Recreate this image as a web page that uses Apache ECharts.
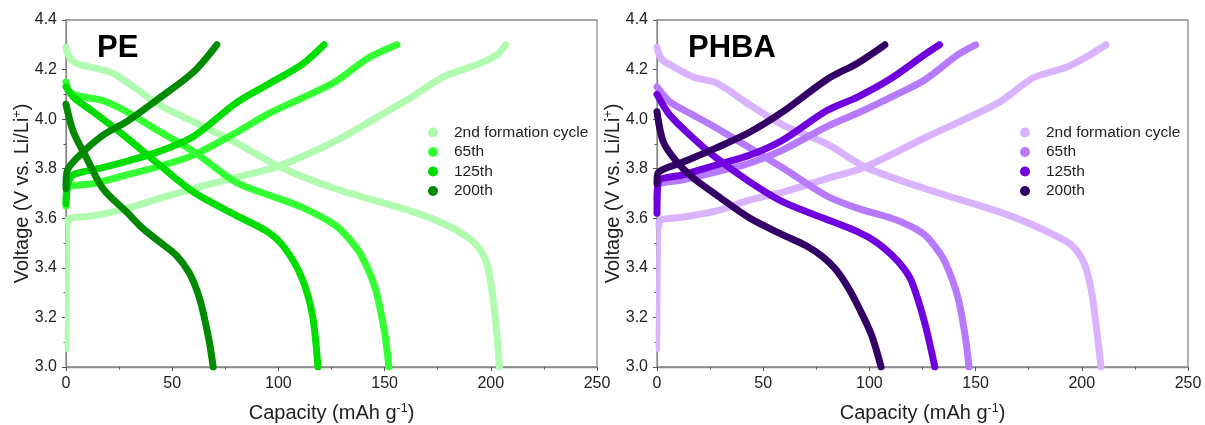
<!DOCTYPE html>
<html>
<head>
<meta charset="utf-8">
<script src="https://cdn.jsdelivr.net/npm/echarts@6/dist/echarts.min.js"></script>
<style>
  html, body { margin: 0; padding: 0; background: #fff; }
  #chart { width: 1205px; height: 425px; }
</style>
</head>
<body>
<div id="chart"></div>
<script>
// ---------- DATA (capacity mAh/g, voltage V) ----------
const cycleNames = ['2nd formation cycle', '65th', '125th', '200th'];
const panelTitles = ['PE', 'PHBA'];
const xTicks = [0, 50, 100, 150, 200, 250];
const yTicks = [3.0, 3.2, 3.4, 3.6, 3.8, 4.0, 4.2, 4.4];

// PE
const PE_2nd_rest = [[0.4,3.07],[0.6,3.3],[0.9,3.58]];
const PE_2nd_charge = [[0.9,3.58],[1.5,3.6],[12.8,3.61],[28.6,3.64],[44,3.68],[60,3.72],[80,3.765],[100,3.81],[126.6,3.91],[145,4.0],[162,4.085],[177.5,4.17],[193.5,4.22],[203,4.26],[207,4.30]];
const PE_2nd_discharge = [[0,4.29],[1,4.26],[3,4.235],[6.6,4.22],[20.7,4.19],[28.6,4.15],[44,4.057],[60,3.99],[80,3.905],[100,3.81],[126.6,3.72],[162,3.63],[177.5,3.58],[188,3.53],[193.5,3.49],[196.5,3.45],[198.7,3.40],[201,3.28],[203,3.12],[204,3.0]];
const PE_65_charge = [[0,3.65],[0.5,3.72],[12.8,3.74],[28.6,3.775],[44,3.81],[60,3.855],[80,3.945],[95,4.02],[111,4.085],[126.6,4.15],[142,4.245],[155.8,4.30]];
const PE_65_discharge = [[0,4.15],[1.2,4.115],[4,4.098],[10,4.087],[17.4,4.075],[28.6,4.03],[44,3.95],[60,3.87],[80,3.745],[95,3.695],[111,3.645],[126.6,3.573],[133,3.52],[139,3.45],[145.5,3.32],[150,3.14],[152,3.0]];
const PE_125_charge = [[0,3.66],[1,3.74],[3.4,3.775],[15,3.80],[28.6,3.83],[44,3.87],[60,3.93],[80,4.065],[95,4.14],[111,4.22],[121.5,4.30]];
const PE_125_discharge = [[0,4.13],[4,4.085],[12.8,4.03],[28.6,3.925],[44,3.815],[60,3.706],[80,3.612],[95,3.545],[103,3.48],[111,3.36],[116,3.21],[118.6,3.0]];
const PE_200_charge = [[0,3.72],[0.5,3.79],[6.6,3.855],[17.4,3.935],[28.6,3.99],[44,4.085],[60,4.19],[71,4.30]];
const PE_200_discharge = [[0,4.06],[3.4,3.95],[9.9,3.84],[17.4,3.72],[28.6,3.625],[36,3.56],[44,3.505],[52,3.45],[58,3.38],[62,3.30],[64.6,3.22],[67.5,3.10],[69.3,3.0]];

// PHBA
const PHBA_2nd_rest = [[0.4,3.07],[0.6,3.3],[0.9,3.57]];
const PHBA_2nd_charge = [[0.9,3.57],[1.5,3.593],[12.3,3.605],[28,3.63],[43.8,3.674],[59.3,3.706],[80,3.76],[98,3.807],[126,3.924],[145,4.0],[161.5,4.07],[177,4.166],[193,4.21],[204,4.26],[211.4,4.30]];
const PHBA_2nd_discharge = [[0,4.29],[1,4.26],[3,4.235],[6,4.22],[17,4.17],[28,4.146],[43.8,4.057],[59.3,3.976],[80,3.90],[98,3.807],[126,3.72],[161.5,3.625],[177,3.573],[193,3.505],[198,3.465],[201.5,3.41],[204.6,3.303],[207,3.15],[209,3.0]];
const PHBA_65_charge = [[0,3.68],[0.5,3.734],[12.3,3.755],[28,3.787],[43.8,3.823],[59.3,3.876],[80,3.97],[94.6,4.025],[110.5,4.09],[126,4.158],[141.7,4.26],[150,4.30]];
const PHBA_65_discharge = [[0,4.13],[6,4.07],[17,4.017],[28,3.964],[43.8,3.884],[59.3,3.803],[80,3.69],[94.6,3.64],[110.5,3.60],[120,3.565],[126,3.533],[131,3.485],[135.6,3.424],[141.7,3.28],[145,3.13],[146.9,3.0]];
const PHBA_125_charge = [[0,3.62],[0.5,3.746],[12.3,3.775],[28,3.815],[43.8,3.855],[59.3,3.916],[80,4.035],[94.6,4.09],[110.5,4.166],[126,4.26],[133,4.30]];
const PHBA_125_discharge = [[0,4.10],[6,4.017],[17,3.924],[28,3.843],[43.8,3.746],[59.3,3.666],[80,3.595],[94.6,3.545],[103,3.505],[110.5,3.452],[116,3.40],[120,3.343],[126,3.18],[130.8,3.0]];
const PHBA_200_charge = [[0,3.74],[0.5,3.783],[12.3,3.827],[28,3.884],[43.8,3.948],[59.3,4.03],[80,4.16],[94.6,4.227],[107.3,4.30]];
const PHBA_200_discharge = [[0,4.03],[3,3.908],[9.4,3.827],[17,3.763],[28,3.694],[43.8,3.60],[59.3,3.533],[70,3.49],[78,3.445],[84,3.395],[90,3.32],[95,3.24],[101,3.129],[105.5,3.0]];

const peColors = ['#b0fbb0', '#33ff33', '#00dd00', '#008a00'];
const phbaColors = ['#d9b3ff', '#b77aff', '#7000dd', '#330066'];

const peCurves = [
  [PE_2nd_charge, PE_2nd_discharge],
  [PE_65_charge, PE_65_discharge],
  [PE_125_charge, PE_125_discharge],
  [PE_200_charge, PE_200_discharge]
];
const phbaCurves = [
  [PHBA_2nd_charge, PHBA_2nd_discharge],
  [PHBA_65_charge, PHBA_65_discharge],
  [PHBA_125_charge, PHBA_125_discharge],
  [PHBA_200_charge, PHBA_200_discharge]
];

// ---------- CHART ----------
const FONT = 'Liberation Sans, Arial, sans-serif';
const chart = echarts.init(document.getElementById('chart'), null, { renderer: 'canvas' });

const grids = [
  { left: 66, top: 20, width: 531, height: 347, show: true, borderColor: '#8a8a8a', borderWidth: 1.3, backgroundColor: 'transparent', containLabel: false, outerBoundsMode: 'none' },
  { left: 657, top: 20, width: 531, height: 347, show: true, borderColor: '#8a8a8a', borderWidth: 1.3, backgroundColor: 'transparent', containLabel: false, outerBoundsMode: 'none' }
];

const nameStyle = { fontFamily: FONT, fontSize: 20, color: '#222', lineHeight: 23,
  rich: { sup: { fontFamily: FONT, fontSize: 12.5, color: '#222', verticalAlign: 'top', lineHeight: 23 } } };

function xAxis(i) {
  return {
    type: 'value', gridIndex: i, min: xTicks[0], max: xTicks[xTicks.length - 1], interval: 50,
    name: 'Capacity (mAh g{sup|-1})', nameLocation: 'middle', nameGap: 35, nameMoveOverlap: false,
    nameTextStyle: nameStyle,
    axisLine: { show: true, lineStyle: { color: '#8a8a8a', width: 1.3 } },
    axisTick: { show: true, inside: false, length: 4, lineStyle: { color: '#555', width: 1 } },
    minorTick: { show: true, splitNumber: 2, length: 2.5, lineStyle: { color: '#555', width: 1 } },
    splitLine: { show: false },
    axisLabel: { fontFamily: FONT, fontSize: 16, color: '#222', margin: 9 }
  };
}
function yAxis(i) {
  return {
    type: 'value', gridIndex: i, min: yTicks[0], max: yTicks[yTicks.length - 1], interval: 0.2,
    name: 'Voltage (V vs. Li/Li{sup|+})', nameLocation: 'middle', nameGap: 32, nameMoveOverlap: false,
    nameTextStyle: nameStyle,
    axisLine: { show: true, lineStyle: { color: '#8a8a8a', width: 1.3 } },
    axisTick: { show: true, inside: false, length: 4, lineStyle: { color: '#555', width: 1 } },
    minorTick: { show: true, splitNumber: 2, length: 2.5, lineStyle: { color: '#555', width: 1 } },
    splitLine: { show: false },
    axisLabel: { fontFamily: FONT, fontSize: 16, color: '#222', margin: 9, formatter: v => v.toFixed(1) }
  };
}

const series = [];
function lineSeries(name, data, color, gi, width) {
  return {
    name: name, type: 'line', xAxisIndex: gi, yAxisIndex: gi,
    data: data, smooth: 0.3, showSymbol: false, symbol: 'circle',
    color: color,
    lineStyle: { color: color, width: width, cap: 'round', join: 'round' },
    emphasis: { disabled: true }, animation: false, clip: true
  };
}
function addPanel(prefix, curves, rest, colors, gi) {
  curves.forEach((pair, k) => {
    pair.forEach(data => series.push(lineSeries(prefix + '|' + cycleNames[k], data, colors[k], gi, 7)));
    if (k === 0) series.push(lineSeries(prefix + '|' + cycleNames[0], rest, colors[0], gi, 4.5));
  });
}
addPanel('PE', peCurves, PE_2nd_rest, peColors, 0);
addPanel('PHBA', phbaCurves, PHBA_2nd_rest, phbaColors, 1);

function legend(prefix, left) {
  return {
    orient: 'vertical', left: left, top: 119.5, itemGap: 3.5,
    icon: 'circle', itemWidth: 10, itemHeight: 10,
    data: cycleNames.map(n => prefix + '|' + n),
    formatter: name => name.split('|')[1],
    textStyle: { fontFamily: FONT, fontSize: 15.5, lineHeight: 16, color: '#222', padding: [0, 0, 0, 11] },
    selectedMode: false
  };
}

chart.setOption({
  backgroundColor: '#fff',
  animation: false,
  title: [
    { text: panelTitles[0], left: 92, top: 28, textStyle: { fontFamily: FONT, fontSize: 31, fontWeight: 'bold', color: '#000' } },
    { text: panelTitles[1], left: 683, top: 28, textStyle: { fontFamily: FONT, fontSize: 31, fontWeight: 'bold', color: '#000' } }
  ],
  legend: [legend('PE', 423), legend('PHBA', 1015)],
  grid: grids,
  xAxis: [xAxis(0), xAxis(1)],
  yAxis: [yAxis(0), yAxis(1)],
  series: series
});
</script>
</body>
</html>
